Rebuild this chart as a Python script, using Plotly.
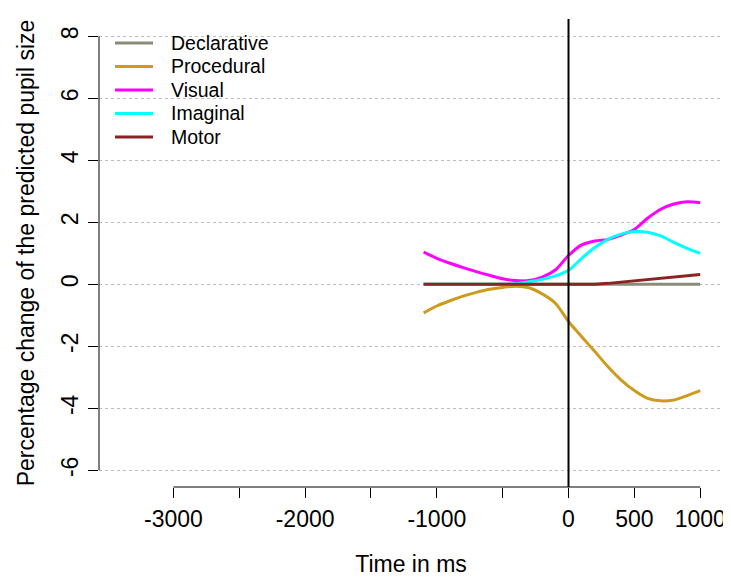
import plotly.graph_objects as go

# ---- data ----
time_ms = [-1100, -1000, -900, -800, -700, -600, -500, -400, -300, -200, -100,
           0, 100, 200, 300, 400, 500, 600, 700, 800, 900, 1000]
declarative = [0, 0, 0, 0, 0, 0, 0, 0, 0, 0, 0,
               0, 0, 0, 0, 0, 0, 0, 0, 0, 0, 0]
procedural = [-0.92, -0.70, -0.53, -0.38, -0.26, -0.16, -0.10, -0.06, -0.11, -0.31, -0.61,
              -1.20, -1.69, -2.17, -2.66, -3.09, -3.43, -3.68, -3.76, -3.73, -3.59, -3.43]
visual = [1.04, 0.84, 0.68, 0.54, 0.41, 0.29, 0.18, 0.12, 0.12, 0.23, 0.46,
          0.93, 1.27, 1.40, 1.45, 1.59, 1.77, 2.13, 2.42, 2.59, 2.66, 2.63]
imaginal = [0, 0, 0, 0, 0, 0, 0, 0.02, 0.08, 0.16, 0.27,
            0.45, 0.84, 1.19, 1.45, 1.62, 1.70, 1.68, 1.56, 1.35, 1.16, 1.00]
motor = [0, 0, 0, 0, 0, 0, 0, 0, 0, 0, 0,
         0, 0, 0, 0.03, 0.07, 0.11, 0.15, 0.19, 0.23, 0.27, 0.32]

series_names = ["Declarative", "Procedural", "Visual", "Imaginal", "Motor"]
series_values = [declarative, procedural, visual, imaginal, motor]
series_colors = ["#8B8B7A", "#CD9B1D", "#FF00FF", "#00FFFF", "#8B2323"]
series_shapes = ["linear", "spline", "spline", "spline", "linear"]

x_ticks = [-3000, -2500, -2000, -1500, -1000, -500, 0, 500, 1000]
x_ticktext = ["-3000", "", "-2000", "", "-1000", "", "0", "500", "1000"]
y_ticks = [-6, -4, -2, 0, 2, 4, 6, 8]
y_ticktext = ["-6", "-4", "-2", "0", "2", "4", "6", "8"]

FONT = "Liberation Sans, Arial, sans-serif"

# figure geometry (page body has an 8px margin)
W, H = 723, 569
ML, MR, MT, MB = 91, 8, 11, 90
PW, PH = W - ML - MR, H - MT - MB


def px_x(p):
    return (p - ML) / PW


def px_y(p):
    return (H - MB - p) / PH


fig = go.Figure()
for name, vals, col, shp in zip(series_names, series_values, series_colors, series_shapes):
    fig.add_trace(go.Scatter(x=time_ms, y=vals, mode="lines", name=name, showlegend=False,
                             line=dict(color=col, width=3, shape=shp, smoothing=0.8)))

# manual legend (R-style compact rows)
shapes = []
annotations = []
row0, row_gap = 35, 23.5
for i, (name, col) in enumerate(zip(series_names, series_colors)):
    yy = px_y(row0 + i * row_gap)
    shapes.append(dict(type="line", xref="paper", yref="paper",
                       x0=px_x(107), x1=px_x(145), y0=yy, y1=yy,
                       line=dict(color=col, width=3)))
    annotations.append(dict(text=name, xref="paper", yref="paper", x=px_x(161), y=yy,
                            xanchor="left", yanchor="middle", showarrow=False,
                            font=dict(size=19.5, family=FONT, color="black")))

shapes += [
    dict(type="line", xref="x", yref="paper", x0=min(x_ticks), x1=max(x_ticks),
         y0=0, y1=0, line=dict(color="black", width=1)),
    dict(type="line", xref="paper", yref="y", x0=0, x1=0,
         y0=min(y_ticks), y1=max(y_ticks), line=dict(color="black", width=1)),
    dict(type="line", xref="x", yref="paper", x0=0, x1=0, y0=0, y1=1,
         line=dict(color="black", width=2), layer="above"),
]

fig.update_layout(
    width=W, height=H,
    margin=dict(l=ML, r=MR, t=MT, b=MB, autoexpand=False),
    paper_bgcolor="white", plot_bgcolor="white",
    font=dict(family=FONT, color="black", size=23),
    showlegend=False,
    xaxis=dict(range=[-3565, 1173], tickvals=x_ticks, ticktext=x_ticktext,
               ticks="outside", ticklen=10, tickwidth=1, tickcolor="black",
               showgrid=False, zeroline=False, showline=False,
               tickfont=dict(size=23), ticklabelstandoff=1,
               title=dict(text="Time in ms", font=dict(size=23), standoff=30)),
    yaxis=dict(range=[-6.54, 8.56], tickvals=y_ticks, ticktext=y_ticktext,
               ticks="outside", ticklen=10, tickwidth=1, tickcolor="black",
               tickangle=-90, tickfont=dict(size=23), ticklabelstandoff=1,
               showgrid=True, gridcolor="#BEBEBE", griddash="dot", gridwidth=1,
               zeroline=False, showline=False,
               title=dict(text="Percentage change of the predicted pupil size",
                          font=dict(size=23), standoff=15)),
    shapes=shapes,
    annotations=annotations,
)

fig.write_html("out.html")
